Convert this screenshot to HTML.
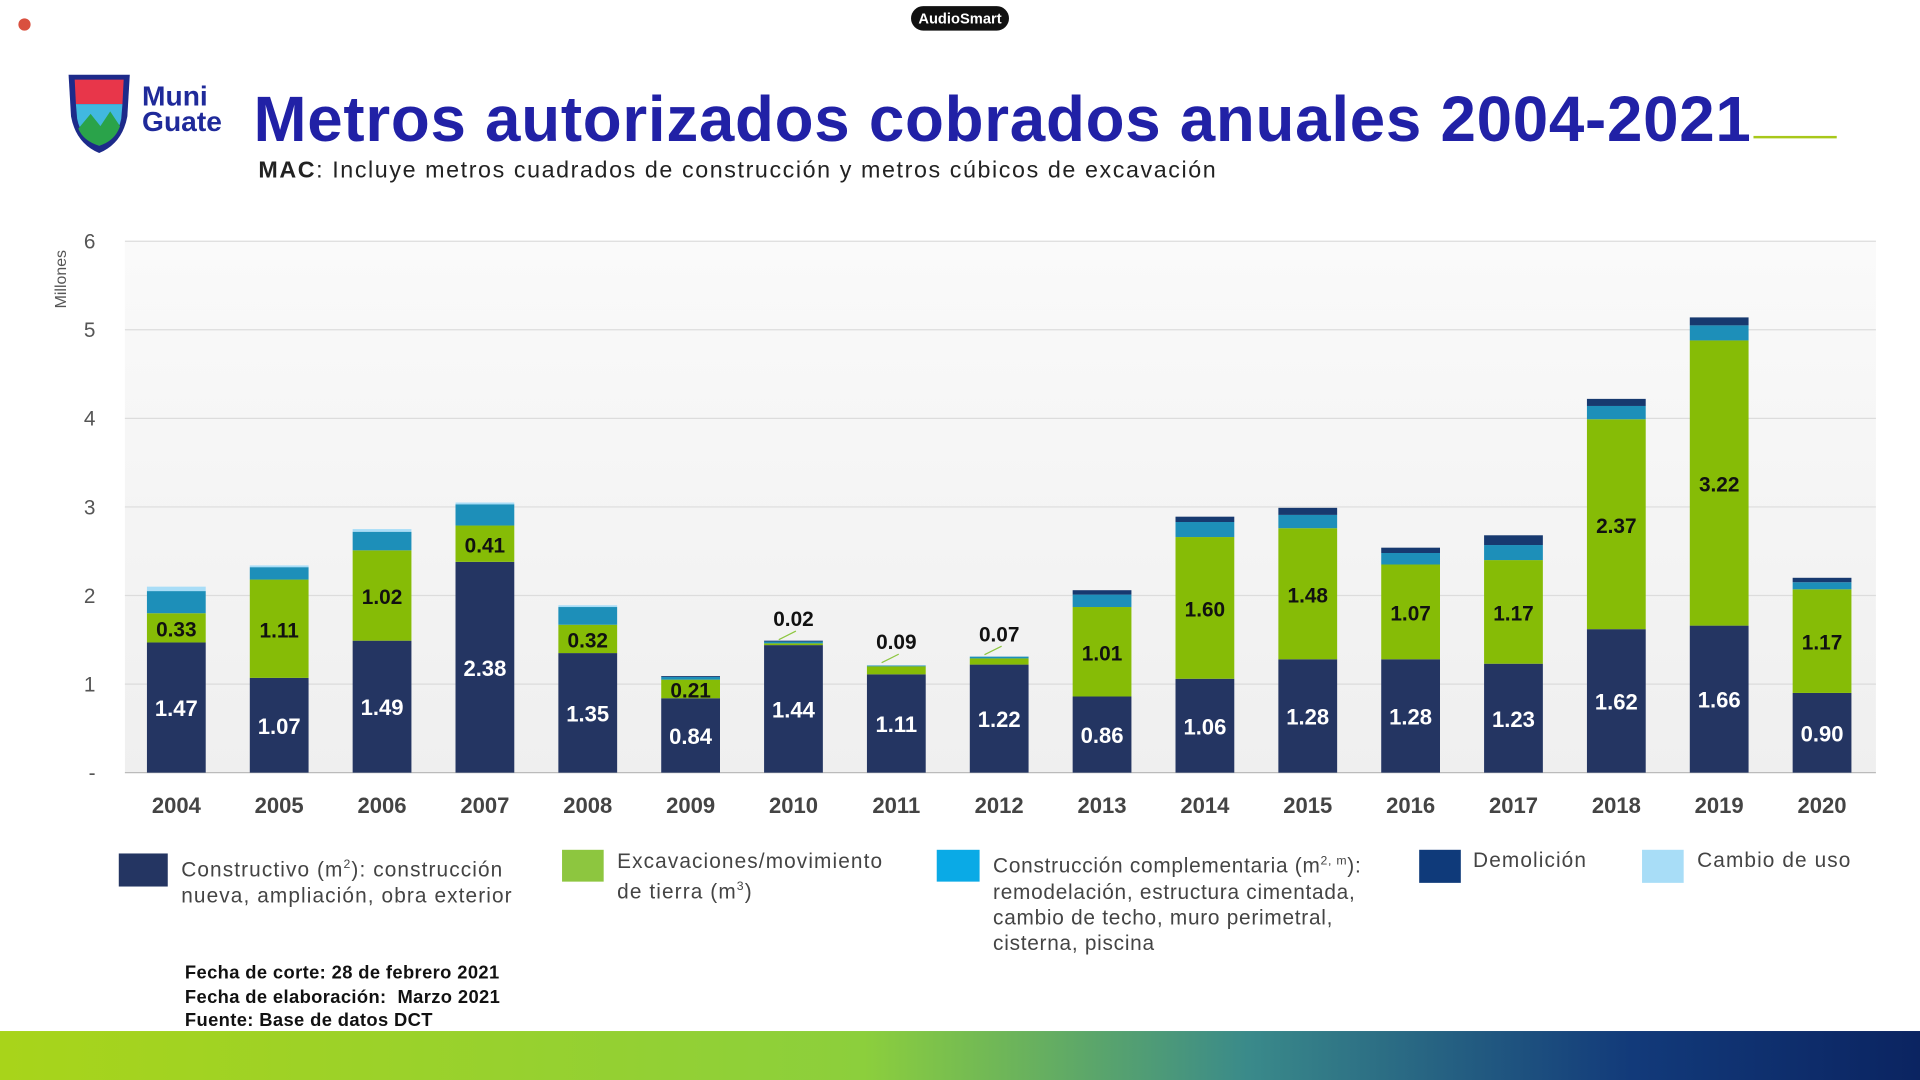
<!DOCTYPE html>
<html><head><meta charset="utf-8"><style>
html,body{margin:0;padding:0;background:#fff;overflow:hidden}
#wrap{position:absolute;left:0;top:0;width:1568px;height:882px;transform:scale(1.22449);transform-origin:0 0;font-family:"Liberation Sans",sans-serif}
.t{position:absolute;white-space:nowrap}
.lg{letter-spacing:0.9px}
</style></head><body>
<div id="wrap">
<div class="t" style="left:15px;top:15px;width:10px;height:10px;border-radius:50%;background:#d9503f"></div>
<div class="t" style="left:744px;top:5px;width:80px;height:20px;border-radius:10px;background:#111;color:#fff;font-size:12px;font-weight:bold;text-align:center;line-height:20px">AudioSmart</div>
<svg class="t" style="left:52px;top:55px" width="58" height="72" viewBox="0 0 58 72">
<path d="M4 6 L54 6 L52 40 Q48 62 29 70 Q10 62 6 40 Z" fill="#1d2a8a"/>
<path d="M9 10 L49 10 L48 30 L10 30 Z" fill="#e8364a"/>
<path d="M10 30 L48 30 L47 42 Q44 58 29 64 Q14 58 11 42 Z" fill="#41b8e0"/>
<path d="M12 50 L22 38 L30 48 L38 36 L46 48 Q42 60 29 64 Q16 60 12 50Z" fill="#2aa34a"/>
</svg>
<div class="t" style="left:116px;top:68px;color:#1f2a9a;font-weight:bold;font-size:23px;line-height:21px">Muni<br>Guate</div>
<div class="t" style="left:207px;top:68px;color:#2121a6;font-weight:bold;font-size:52px;letter-spacing:0.6px">Metros autorizados cobrados anuales 2004-2021</div>
<div class="t" style="left:1432px;top:111px;width:68px;height:2px;background:#a8c81a"></div>
<div class="t" style="left:211px;top:129px;font-size:19px;color:#222;letter-spacing:1.3px"><b>MAC</b>: Incluye metros cuadrados de construcción y metros cúbicos de excavación</div>
<svg class="t" id="chart" style="left:0;top:0" width="1568" height="700"></svg>
<div class="t" style="left:0;top:0">
<div class="t" style="left:97px;top:697px;width:40px;height:27px;background:#243562"></div>
<div class="t lg" style="left:148px;top:696px;font-size:17px;color:#444;line-height:21px">Constructivo (m<sup style="font-size:10px">2</sup>): construcción<br>nueva, ampliación, obra exterior</div>
<div class="t" style="left:459px;top:694px;width:34px;height:26px;background:#8dc63f"></div>
<div class="t lg" style="left:504px;top:693px;font-size:17px;color:#444;line-height:21px">Excavaciones/movimiento<br>de tierra (m<sup style="font-size:10px">3</sup>)</div>
<div class="t" style="left:765px;top:694px;width:35px;height:26px;background:#0aaae6"></div>
<div class="t lg" style="left:811px;top:693px;font-size:17px;color:#444;line-height:21px;letter-spacing:0.6px">Construcción complementaria (m<sup style="font-size:10px">2, m</sup>):<br>remodelación, estructura cimentada,<br>cambio de techo, muro perimetral,<br>cisterna, piscina</div>
<div class="t" style="left:1159px;top:694px;width:34px;height:27px;background:#0f3a7a"></div>
<div class="t lg" style="left:1203px;top:693px;font-size:17px;color:#444">Demolición</div>
<div class="t" style="left:1341px;top:694px;width:34px;height:27px;background:#a8ddf7"></div>
<div class="t lg" style="left:1386px;top:693px;font-size:17px;color:#444">Cambio de uso</div>
</div>
<div class="t" style="left:151px;top:785px;font-size:15px;font-weight:bold;color:#111;line-height:19.5px;letter-spacing:0.3px">Fecha de corte: 28 de febrero 2021<br>Fecha de elaboración:&nbsp; Marzo 2021<br>Fuente: Base de datos DCT</div>
<div class="t" style="left:0;top:842px;width:1568px;height:40px;background:linear-gradient(90deg,#a8d41a 0%,#8ccf3c 45%,#3a8a8a 65%,#123a7a 85%,#0b2461 100%)"></div>
</div>
<script>
const years=["2004","2005","2006","2007","2008","2009","2010","2011","2012","2013","2014","2015","2016","2017","2018","2019","2020"];
const constructivo=[1.47,1.07,1.49,2.38,1.35,0.84,1.44,1.11,1.22,0.86,1.06,1.28,1.28,1.23,1.62,1.66,0.90];
const excavaciones=[0.33,1.11,1.02,0.41,0.32,0.21,0.02,0.09,0.07,1.01,1.60,1.48,1.07,1.17,2.37,3.22,1.17];
const complementaria=[0.25,0.14,0.21,0.24,0.20,0.03,0.02,0.01,0.02,0.14,0.17,0.15,0.13,0.17,0.15,0.17,0.08];
const demolicion=[0.00,0.00,0.00,0.00,0.00,0.01,0.01,0.00,0.00,0.05,0.06,0.08,0.06,0.11,0.08,0.09,0.05];
const cambioUso=[0.05,0.02,0.03,0.02,0.02,0.00,0.00,0.00,0.00,0.00,0.00,0.00,0.00,0.00,0.00,0.00,0.00];
const yTicks=[0,1,2,3,4,5,6];
const yTickLabels=["-","1","2","3","4","5","6"];
const NS="http://www.w3.org/2000/svg";
const svg=document.getElementById('chart');
const X0=102,X1=1532,Y0=631,Y1=197,STEP=84,BW=48;
function y(v){return Y0-(v/6)*(Y0-Y1);}
function xc(i){return 144+i*STEP;}
function mk(t,a){const e=document.createElementNS(NS,t);for(const k in a)e.setAttribute(k,a[k]);svg.appendChild(e);return e;}
const defs=mk('defs',{});
defs.innerHTML='<linearGradient id="bg" x1="0" y1="0" x2="0" y2="1"><stop offset="0" stop-color="#fafafa"/><stop offset="1" stop-color="#efefef"/></linearGradient>';
const bg=mk('rect',{x:X0,y:Y1,width:X1-X0,height:Y0-Y1,fill:'url(#bg)'});


yTicks.forEach((v,i)=>{
 const g=mk('line',{x1:X0,x2:X1,y1:y(v),y2:y(v),stroke:v===0?'#bbb':'#dcdcdc','stroke-width':1});
 
 
 const t=mk('text',{x:78,y:y(v)+6,'text-anchor':'end','font-size':17,fill:'#555','font-family':'Liberation Sans, sans-serif'});
 t.textContent=yTickLabels[i];
 
 
});
const yt=mk('text',{x:0,y:0,transform:'translate(54,228) rotate(-90)','text-anchor':'middle','font-size':13,fill:'#555','font-family':'Liberation Sans, sans-serif'});
yt.textContent='Millones';


const series=[[constructivo,'#243562','constructivo'],[excavaciones,'#86bc06','excavaciones'],[complementaria,'#1d8fb9','complementaria'],[demolicion,'#17396f','demolicion'],[cambioUso,'#a8ddf7','cambio-uso']];
years.forEach((yr,i)=>{
 let base=0;
 series.forEach(([arr,col,nm])=>{
  const v=arr[i]; if(v<=0){return;}
  const r=mk('rect',{x:xc(i)-BW/2,y:y(base+v),width:BW,height:y(base)-y(base+v),fill:col});
  
  
  base+=v;
 });
 const c=constructivo[i],e=excavaciones[i];
 const lt=mk('text',{x:xc(i),y:y(c/2)+7,'text-anchor':'middle','font-size':18,'font-weight':'bold',fill:'#fff','font-family':'Liberation Sans, sans-serif'});
 lt.textContent=c.toFixed(2);
 
 
 let ey;
 if(e>=0.15){ey=y(c+e/2)+7;}
 else{
  ey=y(c+e)-14;
  const ln=mk('line',{x1:xc(i)-12,y1:y(c+e)-3,x2:xc(i)+2,y2:y(c+e)-10,stroke:'#8dc63f','stroke-width':1});
  
  
 }
 const et=mk('text',{x:xc(i),y:ey,'text-anchor':'middle','font-size':17,'font-weight':'bold',fill:'#111','font-family':'Liberation Sans, sans-serif'});
 et.textContent=e.toFixed(2);
 
 
 const xt=mk('text',{x:xc(i),y:664,'text-anchor':'middle','font-size':18,'font-weight':'bold',fill:'#444','font-family':'Liberation Sans, sans-serif'});
 xt.textContent=yr;
 
 
});
</script>
</body></html>
